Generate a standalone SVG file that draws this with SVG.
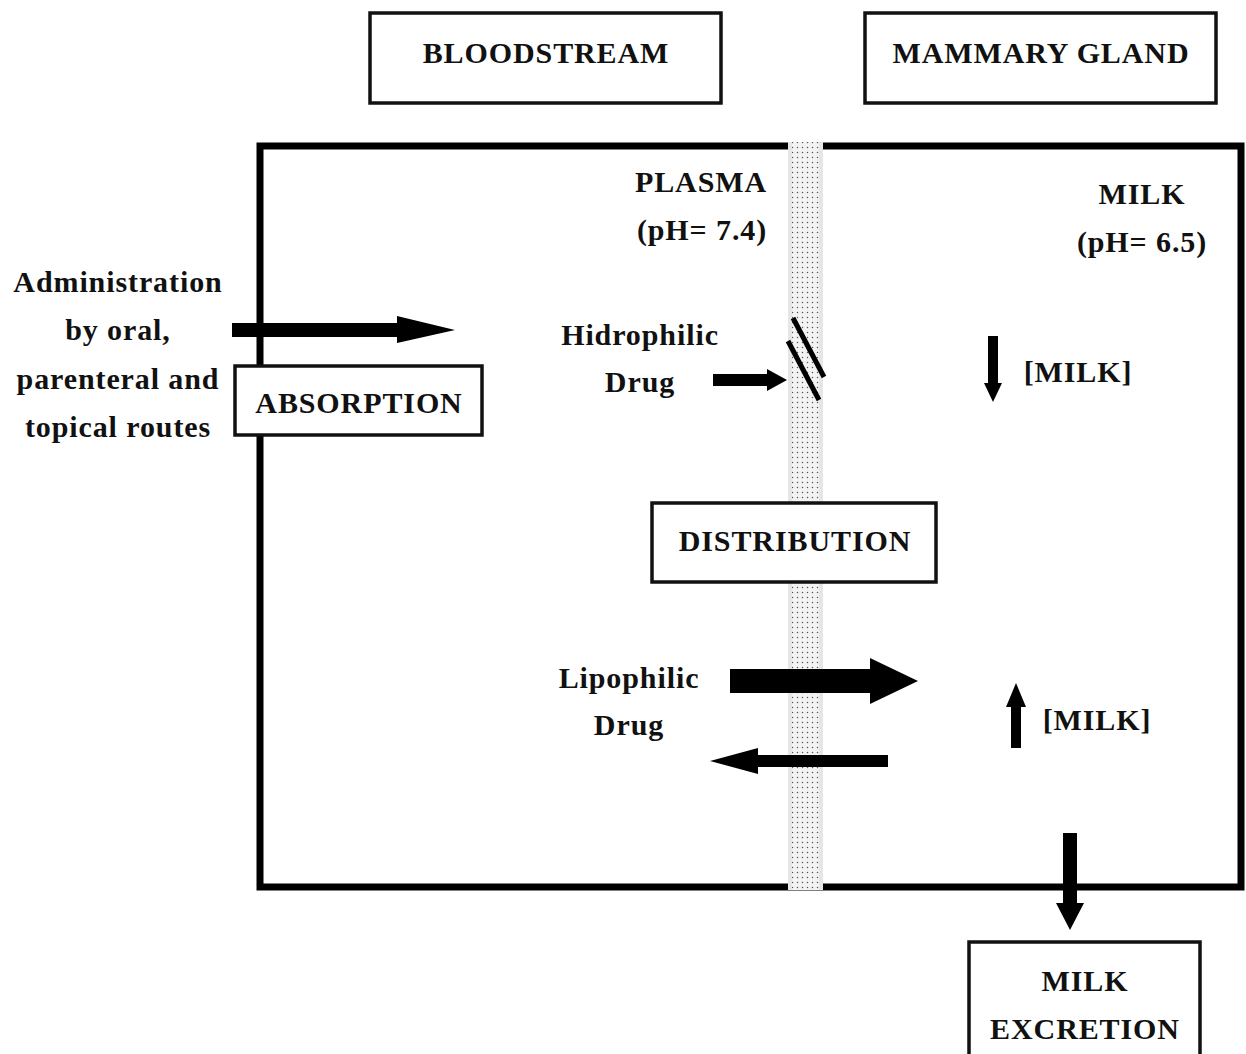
<svg xmlns="http://www.w3.org/2000/svg" width="1246" height="1054" viewBox="0 0 1246 1054">
<defs>
<pattern id="dots" x="0" y="0" width="5" height="5" patternUnits="userSpaceOnUse">
<rect width="5" height="5" fill="#f3f3f3"/>
<circle cx="2.5" cy="2.5" r="0.75" fill="#555"/>
</pattern>
<style>
text{font-family:"Liberation Serif","Times New Roman",serif;font-weight:bold;font-size:30px;letter-spacing:0.9px;fill:#111;text-anchor:middle}
.box{fill:#fff;stroke:#111;stroke-width:3.5}
.arr{fill:#000;stroke:none}
</style>
</defs>
<rect width="1246" height="1054" fill="#fff"/>

<g id="main-box">
<rect x="260" y="146" width="981" height="741" fill="none" stroke="#000" stroke-width="7"/>
</g>

<g id="membrane">
<rect x="788" y="142" width="35" height="748" fill="#e6e6e6"/>
<rect x="792" y="142" width="27" height="748" fill="url(#dots)"/>
</g>

<g id="bloodstream">
<rect class="box" x="370" y="13" width="351" height="90"/>
<text x="546" y="63">BLOODSTREAM</text>
</g>
<g id="mammary-gland">
<rect class="box" x="865" y="13" width="351" height="90"/>
<text x="1041" y="63">MAMMARY GLAND</text>
</g>

<g id="plasma">
<text x="701" y="192">PLASMA</text>
<text x="702" y="240">(pH= 7.4)</text>
</g>
<g id="milk">
<text x="1142" y="204">MILK</text>
<text x="1142" y="252">(pH= 6.5)</text>
</g>

<g id="administration">
<text x="118" y="292">Administration</text>
<text x="118" y="340">by oral,</text>
<text x="118" y="389">parenteral and</text>
<text x="118" y="437">topical routes</text>
</g>

<g id="hidrophilic">
<text x="640" y="345">Hidrophilic</text>
<text x="640" y="392">Drug</text>
</g>
<g id="milk-low">
<text x="1078" y="382">[MILK]</text>
</g>

<g id="lipophilic">
<text x="629" y="688">Lipophilic</text>
<text x="629" y="735">Drug</text>
</g>
<g id="milk-high">
<text x="1097" y="730">[MILK]</text>
</g>

<g id="connectors">
<polygon class="arr" points="232,323 397,323 397,316 455,330 397,343 397,337 232,337"/>
<polygon class="arr" points="713,374 767,374 767,369 787,380 767,391 767,386 713,386"/>
<line x1="793" y1="318" x2="824" y2="377" stroke="#000" stroke-width="5"/>
<line x1="788" y1="341" x2="819" y2="400" stroke="#000" stroke-width="5"/>
<polygon class="arr" points="730,669 870,669 870,658 918,681 870,704 870,693 730,693"/>
<polygon class="arr" points="888,755 758,755 758,748 710,761 758,774 758,767 888,767"/>
<polygon class="arr" points="988,336 998,336 998,383 1002,383 993,402 984,383 988,383"/>
<polygon class="arr" points="1011,748 1021,748 1021,707 1026,707 1016,683 1006,707 1011,707"/>
<polygon class="arr" points="1063,833 1077,833 1077,903 1084,903 1070,930 1056,903 1063,903"/>
</g>

<g id="absorption">
<rect class="box" x="235" y="366" width="247" height="69"/>
<text x="359" y="413">ABSORPTION</text>
</g>

<g id="distribution">
<rect class="box" x="652" y="503" width="284" height="79"/>
<text x="795" y="551">DISTRIBUTION</text>
</g>

<g id="milk-excretion">
<rect class="box" x="969" y="942" width="231" height="120"/>
<text x="1085" y="991">MILK</text>
<text x="1085" y="1039">EXCRETION</text>
</g>
</svg>
